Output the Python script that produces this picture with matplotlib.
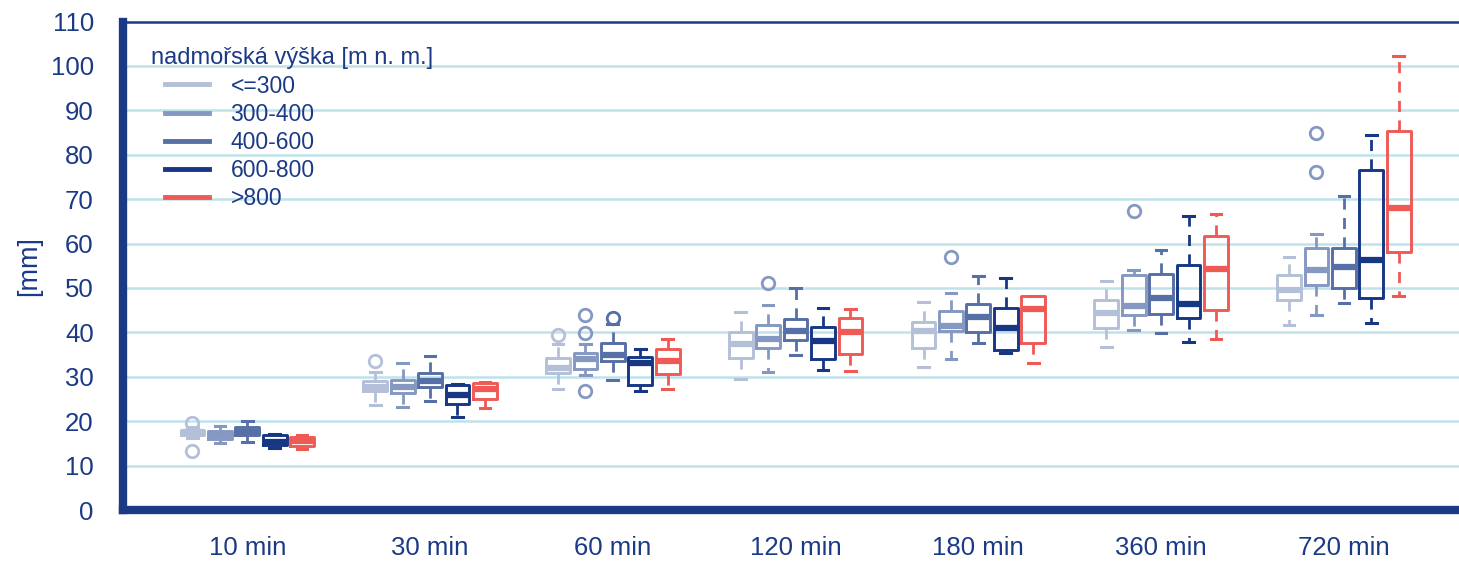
import numpy as np
import matplotlib.pyplot as plt
from matplotlib.lines import Line2D
from matplotlib.legend_handler import HandlerLine2D

plt.rcParams['font.family'] = ['Liberation Sans', 'DejaVu Sans']

durations = ["10 min", "30 min", "60 min", "120 min", "180 min", "360 min", "720 min"]
classes = ["<=300", "300-400", "400-600", "600-800", ">800"]
colors = ["#b4c0d8", "#8598c2", "#566fa6", "#173784", "#ef5a55"]

# per altitude class: one row per duration -> whislo, q1, med, q3, whishi
stats_le300 = [
    [16.3, 17.0, 17.5, 18.0, 18.7],
    [23.7, 26.7, 27.7, 29.0, 31.1],
    [27.2, 30.8, 32.0, 34.2, 37.4],
    [29.6, 34.2, 37.3, 40.0, 44.6],
    [32.1, 36.4, 40.3, 42.4, 46.8],
    [36.7, 41.0, 44.4, 47.2, 51.6],
    [41.6, 47.3, 49.5, 52.9, 57.0],
]
stats_300_400 = [
    [15.2, 15.9, 16.8, 17.8, 19.0],
    [23.1, 26.3, 27.7, 29.3, 33.0],
    [30.5, 31.8, 33.9, 35.4, 37.4],
    [31.0, 36.4, 38.4, 41.6, 46.2],
    [34.1, 40.3, 41.4, 44.8, 48.8],
    [40.5, 44.0, 45.9, 52.9, 54.1],
    [44.0, 50.6, 54.0, 59.1, 62.1],
]
stats_400_600 = [
    [15.4, 16.9, 17.6, 18.6, 20.1],
    [24.6, 27.6, 29.1, 30.8, 34.6],
    [29.3, 33.5, 35.0, 37.6, 41.9],
    [34.8, 38.2, 40.4, 43.1, 50.1],
    [37.6, 40.0, 43.4, 46.5, 52.6],
    [39.9, 44.2, 47.7, 53.1, 58.5],
    [46.7, 50.1, 54.8, 59.0, 70.8],
]
stats_600_800 = [
    [14.0, 14.6, 15.4, 16.8, 17.2],
    [21.0, 23.8, 26.0, 28.2, 28.4],
    [26.9, 28.1, 33.1, 34.4, 36.3],
    [31.6, 33.9, 38.0, 41.2, 45.5],
    [35.4, 36.1, 41.0, 45.4, 52.3],
    [37.9, 43.3, 46.3, 55.2, 66.3],
    [42.2, 47.8, 56.3, 76.5, 84.4],
]
stats_gt800 = [
    [13.8, 14.4, 15.5, 16.5, 17.0],
    [22.9, 24.9, 27.3, 28.6, 28.8],
    [27.2, 30.6, 33.6, 36.3, 38.5],
    [31.4, 35.1, 40.0, 43.3, 45.2],
    [33.1, 37.6, 45.2, 48.2, 48.2],
    [38.5, 45.0, 54.2, 61.8, 66.7],
    [48.2, 58.0, 68.0, 85.4, 102.3],
]
all_stats = [stats_le300, stats_300_400, stats_400_600, stats_600_800, stats_gt800]

# outliers per class, listed per duration
fliers_le300 = [[19.7, 13.3], [33.6], [39.5], [], [], [], []]
fliers_300_400 = [[], [], [43.9, 39.9, 26.9], [51.2], [57.0], [67.3], [84.9, 76.1]]
fliers_400_600 = [[], [], [43.3], [], [], [], []]
fliers_600_800 = [[], [], [], [], [], [], []]
fliers_gt800 = [[], [], [], [], [], [], []]
all_fliers = [fliers_le300, fliers_300_400, fliers_400_600, fliers_600_800, fliers_gt800]

navy = "#1b3a86"
grid_col = "#bfe2ea"

fig = plt.figure(figsize=(14.59, 5.63), dpi=100)
ax = fig.add_axes([0.0843, 0.0941, 0.9157, 0.8677])

group_x = np.arange(len(durations))
offset = 0.15
width = 0.13

for k, (st, fl, col) in enumerate(zip(all_stats, all_fliers, colors)):
    bstats = []
    for i in range(len(durations)):
        lo, q1, med, q3, hi = st[i]
        bstats.append(dict(whislo=lo, q1=q1, med=med, q3=q3, whishi=hi, fliers=fl[i]))
    pos = group_x + (k - 2) * offset
    ax.bxp(bstats, positions=pos, widths=width, showfliers=True, manage_ticks=False,
           boxprops=dict(color=col, linewidth=2.1),
           medianprops=dict(color=col, linewidth=4.5, solid_capstyle='butt'),
           whiskerprops=dict(color=col, linewidth=2, linestyle=(0, (4, 3))),
           capprops=dict(color=col, linewidth=2.2),
           capwidths=width * 0.45,
           flierprops=dict(marker='o', markersize=9, markerfacecolor='none',
                           markeredgecolor=col, markeredgewidth=2))

ax.set_xlim(-0.68, 6.63)
ax.set_ylim(0, 110)
ax.set_yticks(np.arange(0, 111, 10))
ax.set_xticks(group_x)
ax.set_xticklabels(durations)
ax.tick_params(axis='both', length=0, labelsize=18.5, labelcolor=navy)
ax.tick_params(axis='y', pad=21)
ax.tick_params(axis='x', pad=19)

for v in range(10, 110, 10):
    ax.axhline(v, color=grid_col, linewidth=1.8, zorder=0)

ax.spines['left'].set_color(navy)
ax.spines['left'].set_linewidth(6)
ax.spines['bottom'].set_color(navy)
ax.spines['bottom'].set_linewidth(6)
ax.spines['top'].set_color(navy)
ax.spines['top'].set_linewidth(1.8)
ax.spines['right'].set_visible(False)

ax.set_ylabel("[mm]", fontsize=19.5, color=navy, labelpad=6)

# legend lines indented a little under the title
handles = [Line2D([], [], color=c, linewidth=3.5) for c in colors]
leg = ax.legend(handles, classes, title="nadmořská výška [m n. m.]", loc='upper left',
                bbox_to_anchor=(0.011, 0.975), frameon=False, fontsize=16.5,
                title_fontsize=17, handlelength=2.53, handletextpad=0.92,
                labelspacing=0.22, labelcolor=navy, borderaxespad=0.2,
                handler_map={Line2D: HandlerLine2D(xpad=0.57)})
leg.get_title().set_color(navy)
leg._legend_box.align = "left"

fig.savefig("out.png", dpi=100)
